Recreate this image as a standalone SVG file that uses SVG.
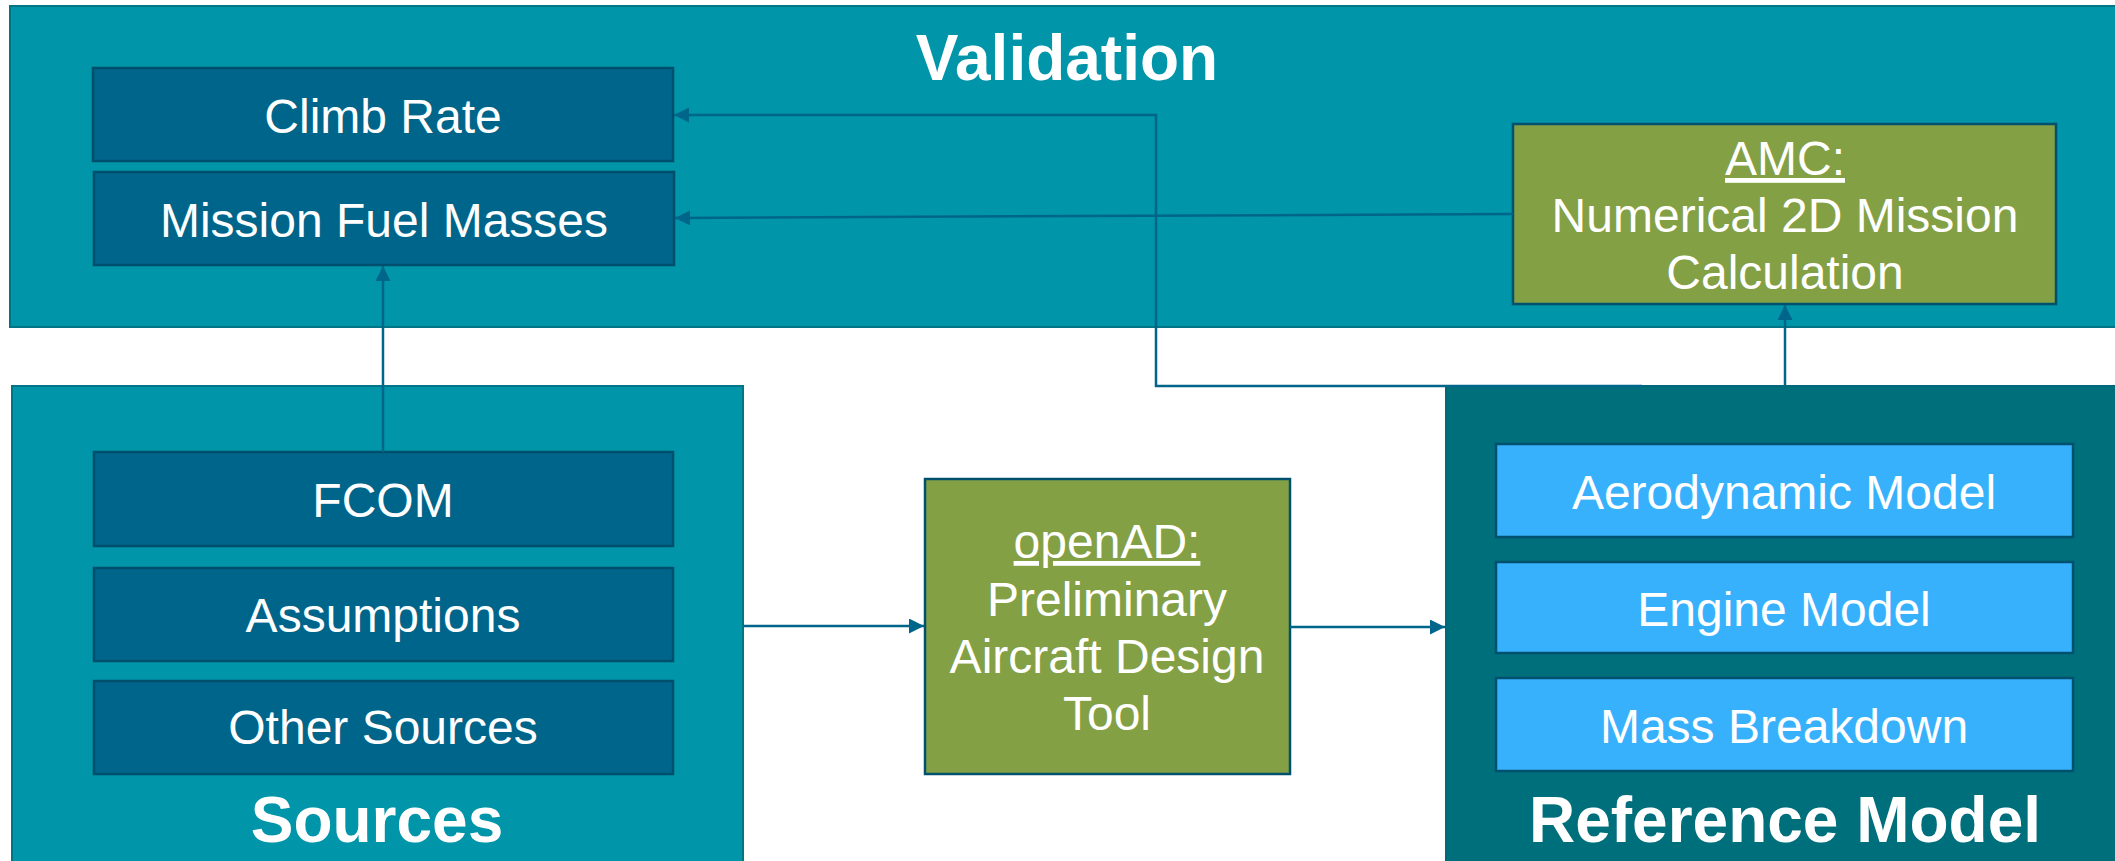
<svg xmlns="http://www.w3.org/2000/svg" width="2115" height="861" viewBox="0 0 2115 861">
<style>
text{font-family:"Liberation Sans",Arial,sans-serif;fill:#fff;text-anchor:middle}
.t{font-size:48px}
.h{font-size:64px;font-weight:bold}
.cont{fill:#0095A9;stroke:#007585;stroke-width:2}
.ref{fill:#006F7C;stroke:#006878;stroke-width:2}
.dk{fill:#00658A;stroke:#004F6C;stroke-width:2.5}
.gr{fill:#84A045;stroke:#00506E;stroke-width:2.5}
.lb{fill:#38B1FC;stroke:#00506E;stroke-width:2.5}
.c{fill:none;stroke:#00658A;stroke-width:2.5}
.u{text-decoration:underline}
</style>
<defs>
<marker id="ah" viewBox="0 0 10 10" refX="10" refY="5" markerWidth="6" markerHeight="6" markerUnits="strokeWidth" orient="auto">
<path d="M0,0 L10,5 L0,10 z" fill="#00658A"/>
</marker>
</defs>
<rect width="2115" height="861" fill="#fff"/>
<g id="validation">
<rect class="cont" x="10" y="6" width="2120" height="321"/>
<text class="h" x="1067" y="80">Validation</text>
</g>
<g id="sources">
<rect class="cont" x="12" y="386" width="731" height="490"/>
<text class="h" x="377" y="842">Sources</text>
</g>
<g id="reference-model">
<rect class="ref" x="1446" y="386" width="680" height="490"/>
<text class="h" x="1785" y="842">Reference Model</text>
</g>
<g id="climb-rate">
<rect class="dk" x="93" y="68" width="580" height="93"/>
<text class="t" x="383" y="133">Climb Rate</text>
</g>
<g id="mission-fuel-masses">
<rect class="dk" x="94" y="172" width="580" height="93"/>
<text class="t" x="384" y="237">Mission Fuel Masses</text>
</g>
<g id="amc">
<rect class="gr" x="1513" y="124" width="543" height="180"/>
<text class="t" x="1785" y="175"><tspan class="u">AMC:</tspan></text>
<text class="t" x="1785" y="232">Numerical 2D Mission</text>
<text class="t" x="1785" y="289">Calculation</text>
</g>
<g id="fcom">
<rect class="dk" x="94" y="452" width="579" height="94"/>
<text class="t" x="383" y="517">FCOM</text>
</g>
<g id="assumptions">
<rect class="dk" x="94" y="568" width="579" height="93"/>
<text class="t" x="383" y="632">Assumptions</text>
</g>
<g id="other-sources">
<rect class="dk" x="94" y="681" width="579" height="93"/>
<text class="t" x="383" y="744">Other Sources</text>
</g>
<g id="openad">
<rect class="gr" x="925" y="479" width="365" height="295"/>
<text class="t" x="1107" y="558"><tspan class="u">openAD:</tspan></text>
<text class="t" x="1107" y="616">Preliminary</text>
<text class="t" x="1107" y="673">Aircraft Design</text>
<text class="t" x="1107" y="730">Tool</text>
</g>
<g id="aerodynamic-model">
<rect class="lb" x="1496" y="444" width="577" height="93"/>
<text class="t" x="1784" y="509">Aerodynamic Model</text>
</g>
<g id="engine-model">
<rect class="lb" x="1496" y="562" width="577" height="91"/>
<text class="t" x="1784" y="626">Engine Model</text>
</g>
<g id="mass-breakdown">
<rect class="lb" x="1496" y="678" width="577" height="93"/>
<text class="t" x="1784" y="743">Mass Breakdown</text>
</g>
<g id="connectors">
<path class="c" d="M383,452 V266" marker-end="url(#ah)"/>
<path class="c" d="M743,626 H924" marker-end="url(#ah)"/>
<path class="c" d="M1290,627 H1445" marker-end="url(#ah)"/>
<path class="c" d="M1785,386 V305" marker-end="url(#ah)"/>
<path class="c" d="M1642,386 H1156 V115 H674" marker-end="url(#ah)"/>
<path class="c" d="M1513,214 L675,218" marker-end="url(#ah)"/>
</g>
</svg>
